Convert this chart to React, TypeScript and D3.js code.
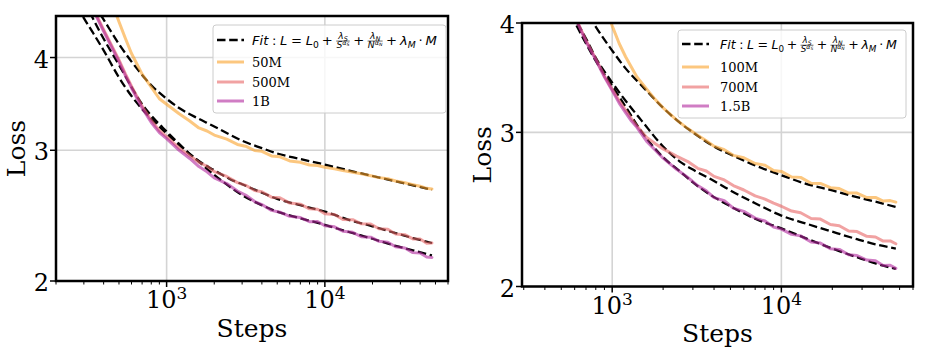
import React from 'react';
import * as d3 from 'd3';

// ---------- left panel: 50M / 500M / 1B ----------
const L_STEPS = [300, 350, 400, 450, 500, 550, 600, 700, 800, 900, 1000, 1200, 1400, 1600, 1800, 2000, 2400, 2800, 3200, 3600, 4000, 4600, 5200, 6000, 7000, 8000, 9000, 10000, 11500, 13000, 15000, 17000, 19500, 22000, 25000, 28000, 32000, 36000, 40000, 44000, 47500];
const L_50M = [5.80, 5.40, 5.05, 4.75, 4.47, 4.24, 4.05, 3.80, 3.65, 3.52, 3.46, 3.36, 3.285, 3.215, 3.185, 3.145, 3.105, 3.055, 3.035, 2.998, 2.99, 2.948, 2.94, 2.902, 2.89, 2.866, 2.862, 2.846, 2.832, 2.818, 2.803, 2.789, 2.772, 2.756, 2.746, 2.727, 2.713, 2.697, 2.684, 2.666, 2.661];
const L_500M = [4.95, 4.62, 4.36, 4.15, 3.97, 3.80, 3.66, 3.44, 3.29, 3.19, 3.13, 3.02, 2.95, 2.89, 2.855, 2.808, 2.766, 2.714, 2.688, 2.648, 2.638, 2.594, 2.589, 2.547, 2.538, 2.502, 2.498, 2.464, 2.458, 2.421, 2.419, 2.388, 2.387, 2.352, 2.348, 2.314, 2.309, 2.279, 2.278, 2.249, 2.25];
const L_1B = [4.93, 4.60, 4.34, 4.13, 3.95, 3.78, 3.64, 3.42, 3.27, 3.17, 3.11, 3.00, 2.925, 2.852, 2.806, 2.754, 2.706, 2.644, 2.606, 2.559, 2.535, 2.49, 2.476, 2.444, 2.435, 2.404, 2.405, 2.374, 2.366, 2.334, 2.326, 2.294, 2.291, 2.262, 2.256, 2.224, 2.216, 2.184, 2.181, 2.154, 2.152];

const LF_STEPS = [250, 300, 340, 400, 500, 600, 700, 800, 1000, 1200, 1500, 2000, 2500, 3000, 4000, 5000, 7000, 10000, 14000, 20000, 28000, 36000, 47500];
const LF_50M = [5.40, 5.00, 4.75, 4.50, 4.17, 3.95, 3.79, 3.67, 3.52, 3.42, 3.33, 3.23, 3.15, 3.09, 3.02, 2.97, 2.92, 2.87, 2.82, 2.77, 2.725, 2.69, 2.655];
const LF_500M = [5.30, 4.80, 4.53, 4.24, 3.91, 3.65, 3.46, 3.34, 3.18, 3.06, 2.93, 2.82, 2.745, 2.70, 2.63, 2.58, 2.53, 2.48, 2.42, 2.37, 2.32, 2.285, 2.25];
const LF_1B = [4.85, 4.52, 4.33, 4.09, 3.76, 3.55, 3.41, 3.31, 3.16, 3.05, 2.93, 2.78, 2.68, 2.61, 2.53, 2.48, 2.43, 2.38, 2.33, 2.28, 2.23, 2.20, 2.165];
const L_NAMES = ['50M', '500M', '1B'];

// ---------- right panel: 100M / 700M / 1.5B ----------
const R_STEPS = [450, 500, 550, 600, 700, 800, 900, 1000, 1100, 1200, 1300, 1400, 1600, 1800, 2000, 2400, 2800, 3200, 3600, 4000, 4600, 5200, 6000, 7000, 8000, 9000, 10000, 11500, 13000, 15000, 17000, 19500, 22000, 25000, 28000, 32000, 36000, 40000, 44000, 47500];
const R_100M = [6.00, 5.70, 5.45, 5.20, 4.80, 4.45, 4.20, 3.97, 3.79, 3.66, 3.56, 3.47, 3.36, 3.27, 3.20, 3.10, 3.03, 2.978, 2.934, 2.893, 2.866, 2.824, 2.806, 2.764, 2.752, 2.714, 2.707, 2.668, 2.665, 2.624, 2.623, 2.594, 2.588, 2.557, 2.557, 2.527, 2.528, 2.504, 2.507, 2.497];
const R_700M = [4.75, 4.45, 4.25, 4.08, 3.82, 3.64, 3.48, 3.36, 3.26, 3.18, 3.11, 3.05, 2.96, 2.912, 2.872, 2.818, 2.778, 2.729, 2.71, 2.672, 2.647, 2.608, 2.578, 2.538, 2.517, 2.49, 2.47, 2.439, 2.428, 2.392, 2.388, 2.354, 2.347, 2.314, 2.311, 2.282, 2.278, 2.254, 2.255, 2.238];
const R_1_5B = [4.74, 4.44, 4.24, 4.07, 3.81, 3.63, 3.47, 3.35, 3.24, 3.16, 3.09, 3.04, 2.93, 2.862, 2.803, 2.722, 2.665, 2.608, 2.572, 2.527, 2.506, 2.458, 2.437, 2.394, 2.376, 2.339, 2.326, 2.294, 2.285, 2.248, 2.242, 2.209, 2.205, 2.174, 2.17, 2.144, 2.14, 2.114, 2.115, 2.098];

const RF_STEPS = [450, 500, 600, 700, 800, 1000, 1200, 1500, 2000, 2500, 3000, 4000, 5000, 7000, 10000, 14000, 20000, 28000, 36000, 47500];
const RF_100M = [5.00, 4.75, 4.40, 4.13, 3.96, 3.72, 3.55, 3.39, 3.20, 3.08, 3.00, 2.89, 2.83, 2.75, 2.68, 2.62, 2.575, 2.53, 2.50, 2.465];
const RF_700M = [4.47, 4.31, 4.05, 3.84, 3.65, 3.42, 3.26, 3.09, 2.89, 2.78, 2.72, 2.64, 2.575, 2.49, 2.41, 2.36, 2.31, 2.265, 2.235, 2.21];
const RF_1_5B = [4.45, 4.28, 4.01, 3.79, 3.62, 3.39, 3.21, 3.00, 2.81, 2.71, 2.63, 2.53, 2.47, 2.39, 2.33, 2.27, 2.21, 2.16, 2.125, 2.095];
const R_NAMES = ['100M', '700M', '1.5B'];

const Y_TICKS = [2, 3, 4];
const COLORS = ['#faa22a', '#e86464', '#b1269d'];
const LINE_ALPHA = 0.6;
const FIT_DASH = '8.5,3.7';
const SERIF = '"DejaVu Serif", serif';
const SANS = '"DejaVu Sans", sans-serif';

// canvas text measuring for the mathtext legend label
let measureCtx: CanvasRenderingContext2D | null = null;
function textWidth(t: string, size: number, italic: boolean) {
  if (!measureCtx) measureCtx = document.createElement('canvas').getContext('2d');
  if (!measureCtx) return t.length * size * 0.6;
  measureCtx.font = `${italic ? 'italic ' : ''}${size}px "DejaVu Sans"`;
  return measureCtx.measureText(t).width;
}

type Glyph = { x: number; y: number; t: string; size: number; it: boolean };

function layoutFit(s: number) {
  const glyphs: Glyph[] = [];
  const bars: { x1: number; x2: number; y: number }[] = [];
  let x = 0;
  const put = (t: string, size: number, it: boolean, dy = 0) => {
    glyphs.push({ x, y: dy, t, size, it });
    x += textWidth(t, size, it);
  };
  const sp = (em: number) => { x += em * s; };
  const frac = (sym: string) => {
    const ns = 0.7 * s;
    const numW = textWidth('λ', ns, true) + textWidth(sym, ns * 0.7, true);
    const denW = textWidth(sym, ns, true) + textWidth('α', ns * 0.7, true) + textWidth(sym, ns * 0.5, true);
    const w = Math.max(numW, denW) + 0.12 * s;
    const axis = -0.3 * s;
    const x0 = x;
    let nx = x0 + (w - numW) / 2;
    const nb = axis - 0.14 * s;
    glyphs.push({ x: nx, y: nb, t: 'λ', size: ns, it: true });
    nx += textWidth('λ', ns, true);
    glyphs.push({ x: nx, y: nb + 0.18 * ns, t: sym, size: ns * 0.7, it: true });
    let dx = x0 + (w - denW) / 2;
    const db = axis + 0.8 * ns;
    glyphs.push({ x: dx, y: db, t: sym, size: ns, it: true });
    dx += textWidth(sym, ns, true);
    glyphs.push({ x: dx, y: db - 0.42 * ns, t: 'α', size: ns * 0.7, it: true });
    dx += textWidth('α', ns * 0.7, true);
    glyphs.push({ x: dx, y: db - 0.3 * ns, t: sym, size: ns * 0.5, it: true });
    bars.push({ x1: x0 + 0.04 * s, x2: x0 + w - 0.04 * s, y: axis });
    x = x0 + w;
  };
  put('Fit', s, true); sp(0.28); put(':', s, false); sp(0.28);
  put('L', s, true); sp(0.28); put('=', s, false); sp(0.28);
  put('L', s, true); put('0', 0.7 * s, false, 0.22 * s);
  sp(0.22); put('+', s, false); sp(0.22);
  frac('S');
  sp(0.22); put('+', s, false); sp(0.22);
  frac('N');
  sp(0.22); put('+', s, false); sp(0.22);
  put('λ', s, true); put('M', 0.7 * s, true, 0.22 * s);
  sp(0.22); put('·', s, false); sp(0.22);
  put('M', s, true);
  return { glyphs, bars, w: x };
}

const FitLabel = ({ x, y, width }: { x: number; y: number; width: number }) => {
  const first = layoutFit(13);
  const lay = layoutFit(13 * width / first.w);
  return (
    <g transform={`translate(${x},${y})`}>
      {lay.glyphs.map((g, i) => (
        <text key={i} x={g.x} y={g.y} fontSize={g.size} fontStyle={g.it ? 'italic' : 'normal'}
          fontFamily={SANS} fill="#000">{g.t}</text>
      ))}
      {lay.bars.map((b, i) => (
        <line key={'b' + i} x1={b.x1} x2={b.x2} y1={b.y} y2={b.y} stroke="#000" strokeWidth={0.6} />
      ))}
    </g>
  );
};

type PanelProps = {
  id: string;
  box: { x0: number; x1: number; y0: number; y1: number };
  xDomain: [number, number];
  yDomain: [number, number];
  steps: number[];
  series: number[][];
  fitSteps: number[];
  fits: number[][];
  names: string[];
  legend: { x: number; y: number; w: number; h: number; hx: number; tx: number; rows: number[] };
  lossX: number;
};

const Panel = ({ id, box, xDomain, yDomain, steps, series, fitSteps, fits, names, legend, lossX }: PanelProps) => {
  const x = d3.scaleLog().domain(xDomain).range([box.x0, box.x1]);
  const y = d3.scaleLog().domain(yDomain).range([box.y1, box.y0]);

  const dataLine = (vals: number[]) =>
    d3.line<number>().x((_, i) => x(steps[i])).y(v => y(v)).curve(d3.curveLinear)(vals) || '';
  const fitLine = (vals: number[]) =>
    d3.line<number>().x((_, i) => x(fitSteps[i])).y(v => y(v)).curve(d3.curveMonotoneX)(vals) || '';

  const xTicks = x.ticks();
  const isMajor = (t: number) => Math.abs(Math.log10(t) - Math.round(Math.log10(t))) < 1e-9;
  const majors = xTicks.filter(isMajor);
  const minors = xTicks.filter(t => !isMajor(t));

  const cx = (box.x0 + box.x1) / 2;
  const cy = (box.y0 + box.y1) / 2;

  return (
    <g>
      <defs>
        <clipPath id={id}>
          <rect x={box.x0} y={box.y0} width={box.x1 - box.x0} height={box.y1 - box.y0} />
        </clipPath>
      </defs>
      {/* grid */}
      {majors.map(t => (
        <line key={'gx' + t} x1={x(t)} x2={x(t)} y1={box.y0} y2={box.y1} stroke="#d4d4d4" strokeWidth={1.6} />
      ))}
      {Y_TICKS.map(t => (
        <line key={'gy' + t} x1={box.x0} x2={box.x1} y1={y(t)} y2={y(t)} stroke="#d4d4d4" strokeWidth={1.6} />
      ))}
      <g clipPath={`url(#${id})`}>
        {fits.map((f, i) => (
          <path key={'f' + i} d={fitLine(f)} fill="none" stroke="#000" strokeWidth={2.3}
            strokeDasharray={FIT_DASH} />
        ))}
        {series.map((s, i) => (
          <path key={'s' + i} d={dataLine(s)} fill="none" stroke={COLORS[i]} strokeOpacity={LINE_ALPHA}
            strokeWidth={3} strokeLinejoin="round" strokeLinecap="round" />
        ))}
      </g>
      {/* frame */}
      <rect x={box.x0} y={box.y0} width={box.x1 - box.x0} height={box.y1 - box.y0}
        fill="none" stroke="#000" strokeWidth={2.5} />
      {/* x ticks */}
      {minors.map(t => (
        <line key={'mx' + t} x1={x(t)} x2={x(t)} y1={box.y1} y2={box.y1 + 3.5} stroke="#000" strokeWidth={1} />
      ))}
      {majors.map(t => (
        <g key={'Mx' + t}>
          <line x1={x(t)} x2={x(t)} y1={box.y1} y2={box.y1 + 6} stroke="#000" strokeWidth={1.5} />
          <text x={x(t)} y={box.y1 + 27} textAnchor="middle" fontFamily={SERIF} fontSize={24} fill="#000">
            10<tspan dy={-9} fontSize={17}>{Math.round(Math.log10(t))}</tspan>
          </text>
        </g>
      ))}
      {/* y ticks */}
      {Y_TICKS.map(t => (
        <g key={'My' + t}>
          <line x1={box.x0 - 6} x2={box.x0} y1={y(t)} y2={y(t)} stroke="#000" strokeWidth={1.5} />
          <text x={box.x0 - 7} y={y(t) + 10} textAnchor="end" fontFamily={SERIF} fontSize={24} fill="#000">{t}</text>
        </g>
      ))}
      <text x={cx} y={box.y1 + 55.5} textAnchor="middle" fontFamily={SERIF} fontSize={25} fill="#000">Steps</text>
      <text transform={`translate(${lossX},${cy}) rotate(-90)`} textAnchor="middle" fontFamily={SERIF}
        fontSize={25} fill="#000">Loss</text>
      {/* legend */}
      <rect x={legend.x} y={legend.y} width={legend.w} height={legend.h} rx={3} ry={3}
        fill="#fff" fillOpacity={0.8} stroke="#cccccc" strokeWidth={1} />
      <line x1={legend.hx} x2={legend.hx + 27} y1={legend.rows[0]} y2={legend.rows[0]} stroke="#000"
        strokeWidth={2.3} strokeDasharray={FIT_DASH} />
      <FitLabel x={legend.tx} y={legend.rows[0] + 5} width={legend.x + legend.w - legend.tx - 9} />
      {names.map((n, i) => (
        <g key={n}>
          <line x1={legend.hx} x2={legend.hx + 27} y1={legend.rows[i + 1]} y2={legend.rows[i + 1]}
            stroke={COLORS[i]} strokeOpacity={LINE_ALPHA} strokeWidth={3} />
          <text x={legend.tx} y={legend.rows[i + 1] + 4.7} fontFamily={SERIF} fontSize={13} fill="#000">{n}</text>
        </g>
      ))}
    </g>
  );
};

export default function App() {
  return (
    <div style={{ position: 'absolute', left: 0, top: 0 }}>
      <svg width={930} height={360} style={{ display: 'block', background: '#fff' }}>
        <Panel
          id="clipL"
          box={{ x0: 56, x1: 448, y0: 16, y1: 281 }}
          xDomain={[200, 60000]}
          yDomain={[2, 4.55]}
          steps={L_STEPS}
          series={[L_50M, L_500M, L_1B]}
          fitSteps={LF_STEPS}
          fits={[LF_50M, LF_500M, LF_1B]}
          names={L_NAMES}
          legend={{ x: 213, y: 25, w: 233, h: 88, hx: 217, tx: 252, rows: [40, 62, 82, 101] }}
          lossX={25}
        />
        <Panel
          id="clipR"
          box={{ x0: 522, x1: 913, y0: 23, y1: 286.5 }}
          xDomain={[293, 60000]}
          yDomain={[2, 4]}
          steps={R_STEPS}
          series={[R_100M, R_700M, R_1_5B]}
          fitSteps={RF_STEPS}
          fits={[RF_100M, RF_700M, RF_1_5B]}
          names={R_NAMES}
          legend={{ x: 678, y: 30, w: 228, h: 88, hx: 682, tx: 720, rows: [44, 67, 87, 106] }}
          lossX={491}
        />
      </svg>
    </div>
  );
}
